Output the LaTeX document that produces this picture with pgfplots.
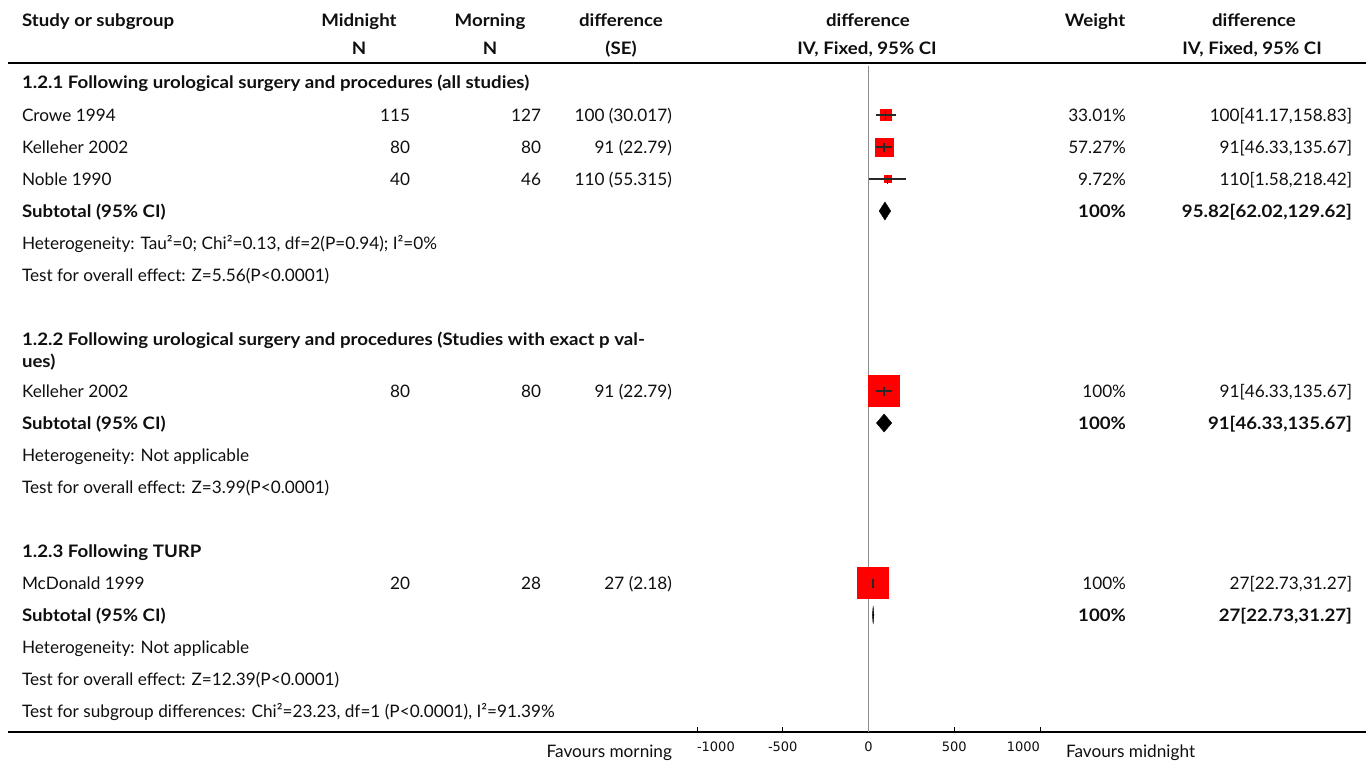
\documentclass[border=0pt]{standalone}
\usepackage{fontspec}
\setmainfont{Lato}[BoldFeatures={FakeStretch=1.085}]
\newfontfamily\tickfont{DejaVu Sans}
\usepackage{pgfplots}
\pgfplotsset{compat=1.18}

\definecolor{sqred}{RGB}{255,0,0}
\definecolor{cigray}{RGB}{40,40,40}
\definecolor{zerogray}{RGB}{140,140,140}
\definecolor{txt}{RGB}{15,15,15}

\newcommand\fs{\fontsize{17.2}{20}\selectfont}
\newcommand\tfs{\tickfont\fontsize{13}{15}\selectfont}

\begin{document}
\begin{tikzpicture}[x=1pt,y=-1pt,
  every node/.style={inner sep=0pt, outer sep=0pt, font=\fs, text=txt},
  L/.style={anchor=base west, yshift=-6pt},
  R/.style={anchor=base east, yshift=-6pt},
  C/.style={anchor=base, yshift=-6pt},
  B/.style={font=\fs\bfseries}]
\useasboundingbox (0,0) rectangle (1370,763);

% ---- column headers
\node[L,B] at (22,20) {Study or subgroup};
\node[C,B] at (359,20) {Midnight};
\node[C,B] at (359,48) {N};
\node[C,B] at (490,20) {Morning};
\node[C,B] at (490,48) {N};
\node[C,B] at (621,20) {difference};
\node[C,B] at (621,48) {(SE)};
\node[C,B] at (868,20) {difference};
\node[C,B] at (867,48) {IV, Fixed, 95\% CI};
\node[C,B] at (1095,20) {Weight};
\node[C,B] at (1254,20) {difference};
\node[C,B] at (1252,48) {IV, Fixed, 95\% CI};
\draw[black, line width=1.6pt] (8,63) -- (1366,63);

% ---- subgroup 1.2.1
\node[L,B] at (22,82) {1.2.1 Following urological surgery and procedures (all studies)};
\node[L] at (22,115) {Crowe 1994};
\node[R] at (410,115) {115};
\node[R] at (541,115) {127};
\node[R] at (672,115) {100 (30.017)};
\node[R] at (1126,115) {33.01\%};
\node[R] at (1352,115) {100[41.17,158.83]};
\node[L] at (22,147) {Kelleher 2002};
\node[R] at (410,147) {80};
\node[R] at (541,147) {80};
\node[R] at (672,147) {91 (22.79)};
\node[R] at (1126,147) {57.27\%};
\node[R] at (1352,147) {91[46.33,135.67]};
\node[L] at (22,179) {Noble 1990};
\node[R] at (410,179) {40};
\node[R] at (541,179) {46};
\node[R] at (672,179) {110 (55.315)};
\node[R] at (1126,179) {9.72\%};
\node[R] at (1352,179) {110[1.58,218.42]};
\node[L,B] at (22,211) {Subtotal (95\% CI)};
\node[R,B] at (1126,211) {100\%};
\node[R,B] at (1352,211) {95.82[62.02,129.62]};
\node[L] at (22,243) {Heterogeneity: Tau²=0; Chi²=0.13, df=2(P=0.94); I²=0\%};
\node[L] at (22,275) {Test for overall effect: Z=5.56(P<0.0001)};

% ---- subgroup 1.2.2
\node[L,B] at (22,339) {1.2.2 Following urological surgery and procedures (Studies with exact p val-};
\node[L,B] at (22,361) {ues)};
\node[L] at (22,391) {Kelleher 2002};
\node[R] at (410,391) {80};
\node[R] at (541,391) {80};
\node[R] at (672,391) {91 (22.79)};
\node[R] at (1126,391) {100\%};
\node[R] at (1352,391) {91[46.33,135.67]};
\node[L,B] at (22,423) {Subtotal (95\% CI)};
\node[R,B] at (1126,423) {100\%};
\node[R,B] at (1352,423) {91[46.33,135.67]};
\node[L] at (22,455) {Heterogeneity: Not applicable};
\node[L] at (22,487) {Test for overall effect: Z=3.99(P<0.0001)};

% ---- subgroup 1.2.3
\node[L,B] at (22,551) {1.2.3 Following TURP};
\node[L] at (22,583) {McDonald 1999};
\node[R] at (410,583) {20};
\node[R] at (541,583) {28};
\node[R] at (672,583) {27 (2.18)};
\node[R] at (1126,583) {100\%};
\node[R] at (1352,583) {27[22.73,31.27]};
\node[L,B] at (22,615) {Subtotal (95\% CI)};
\node[R,B] at (1126,615) {100\%};
\node[R,B] at (1352,615) {27[22.73,31.27]};
\node[L] at (22,647) {Heterogeneity: Not applicable};
\node[L] at (22,679) {Test for overall effect: Z=12.39(P<0.0001)};
\node[L] at (22,711) {Test for subgroup differences: Chi²=23.23, df=1 (P<0.0001), I²=91.39\%};

% ---- bottom rule and direction labels
\draw[black, line width=1.4pt] (8,732) -- (1366,732);
\node[R] at (672,751) {Favours morning};
\node[L] at (1066,751) {Favours midnight};

% ---- forest plot (y = distance in px from the bottom edge)
\begin{axis}[
  at={(697pt,-732pt)}, anchor=south west,
  scale only axis, width=343pt, height=670pt,
  xmin=-1000, xmax=1000, ymin=31, ymax=701,
  axis x line*=bottom, axis y line=none,
  x axis line style={line width=1.8pt, -},
  xtick={-1000,-500,0,500,1000},
  xticklabels={\makebox[0pt][l]{-1000},-500,0,500,\makebox[0pt][r]{1000}},
  tick align=inside, major tick length=5pt,
  tick style={black, line width=0.7pt},
  xticklabel style={font=\tfs, text=txt, anchor=base, yshift=-19pt},
  clip=false, clip mode=individual,
]
% line of no effect
\addplot[zerogray, line width=0.9pt] coordinates {(0,31) (0,697)};

% Crowe 1994
\addplot[only marks, mark=square*, mark size=5.5pt, sqred, mark options={draw=none}] coordinates {(100,648)};
\addplot[cigray, line width=1.4pt] coordinates {(41.17,648) (158.83,648)};
\addplot[cigray, line width=1.4pt] coordinates {(100,643.5) (100,652.5)};
% Kelleher 2002
\addplot[only marks, mark=square*, mark size=9.2pt, sqred, mark options={draw=none}] coordinates {(91,616)};
\addplot[cigray, line width=1.4pt] coordinates {(46.33,616) (135.67,616)};
\addplot[cigray, line width=1.4pt] coordinates {(91,611.5) (91,620.5)};
% Noble 1990
\addplot[only marks, mark=square*, mark size=3.5pt, sqred, mark options={draw=none}] coordinates {(110,584)};
\addplot[cigray, line width=1.4pt] coordinates {(1.58,584) (218.42,584)};
\addplot[cigray, line width=1.4pt] coordinates {(110,579.5) (110,588.5)};
% Subtotal 1.2.1
\addplot[fill=black, draw=black] coordinates {(62.02,552) (95.82,561) (129.62,552) (95.82,543)} -- cycle;

% Kelleher 2002 (exact p values)
\addplot[only marks, mark=square*, mark size=15.5pt, sqred, mark options={draw=none}] coordinates {(91,372)};
\addplot[cigray, line width=1.4pt] coordinates {(46.33,372) (135.67,372)};
\addplot[cigray, line width=1.4pt] coordinates {(91,367.5) (91,376.5)};
% Subtotal 1.2.2
\addplot[fill=black, draw=black] coordinates {(46.33,340) (91,349) (135.67,340) (91,331)} -- cycle;

% McDonald 1999
\addplot[only marks, mark=square*, mark size=15.5pt, sqred, mark options={draw=none}] coordinates {(27,180)};
\addplot[cigray, line width=1.4pt] coordinates {(22.73,180) (31.27,180)};
\addplot[cigray, line width=1.4pt] coordinates {(27,175.5) (27,184.5)};
% Subtotal 1.2.3
\addplot[fill=black, draw=black] coordinates {(22.73,148) (27,157) (31.27,148) (27,139)} -- cycle;
\end{axis}
\end{tikzpicture}
\end{document}
